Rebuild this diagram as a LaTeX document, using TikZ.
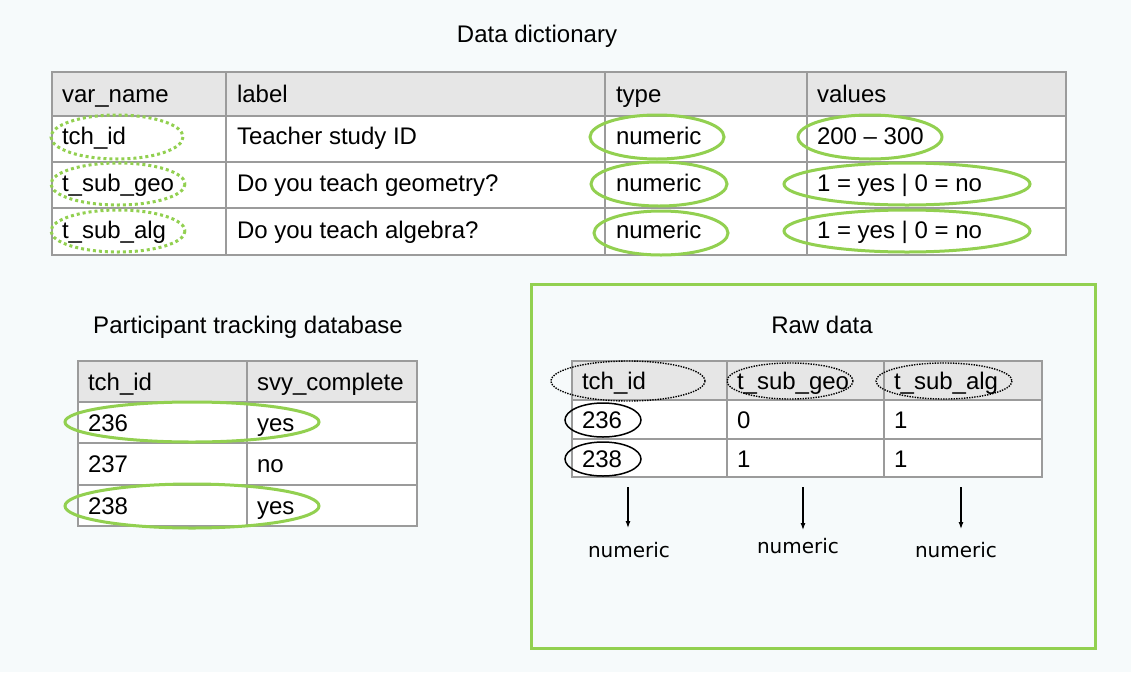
\documentclass[tikz,border=0pt]{standalone}
\usepackage{fontspec}
\usetikzlibrary{arrows.meta}
\setmainfont{Liberation Sans}
\newfontfamily\dejavu{DejaVu Sans}
\definecolor{bg}{RGB}{246,250,251}
\definecolor{hdr}{RGB}{230,230,230}
\definecolor{grid}{RGB}{155,155,155}
\definecolor{lgreen}{RGB}{146,208,80}
\begin{document}
\begin{tikzpicture}[x=1pt,y=-1pt,
  every node/.style={inner sep=0pt,outer sep=0pt,font=\fontsize{24}{28}\selectfont,text=black},
  cell/.style={anchor=base west},
  ttl/.style={anchor=base},
  gridline/.style={draw=grid,line width=1.4pt},
  gdot/.style={draw=lgreen,line width=3pt,dash pattern=on 3pt off 3pt},
  gsolid/.style={draw=lgreen,line width=3pt},
  kdot/.style={draw=black,line width=1.4pt,dash pattern=on 1.4pt off 1.2pt},
  ksolid/.style={draw=black,line width=1.5pt},
  numlab/.style={anchor=base,font=\dejavu\fontsize{20}{23}\selectfont},
  arr/.style={draw=black,line width=1.1pt,-{Latex[length=7pt,width=5pt]}}
]
\useasboundingbox (0,0) rectangle (1131,672);
\fill[bg] (0,0) rectangle (1131,672);

% ---------- Data dictionary ----------
\node[ttl] (t1) at (537,42) {Data dictionary};
\fill[white] (52,116) rectangle (1066,255);
\fill[hdr] (52,72) rectangle (1066,116);
\draw[gridline] (52,72) rectangle (1066,255);
\foreach \y in {116,162,208} \draw[gridline] (52,\y) -- (1066,\y);
\foreach \x in {226,605,807} \draw[gridline] (\x,72) -- (\x,255);

\node[cell] (h1) at (62,102) {var\_name};
\node[cell] (h2) at (237,102) {label};
\node[cell] (h3) at (616,102) {type};
\node[cell] (h4) at (817,102) {values};

\node[cell] (v1) at (62,144) {tch\_id};
\node[cell] (v2) at (62,191) {t\_sub\_geo};
\node[cell] (v3) at (62,238) {t\_sub\_alg};
\node[cell] (l1) at (237,144) {Teacher study ID};
\node[cell] (l2) at (237,191) {Do you teach geometry?};
\node[cell] (l3) at (237,238) {Do you teach algebra?};
\node[cell] (ty1) at (616,144) {numeric};
\node[cell] (ty2) at (616,191) {numeric};
\node[cell] (ty3) at (616,238) {numeric};
\node[cell] (va1) at (817,144) {200 \textendash\ 300};
\node[cell] (va2) at (817,191) {1 = yes | 0 = no};
\node[cell] (va3) at (817,238) {1 = yes | 0 = no};

\draw[gdot] (117,137) ellipse [x radius=66, y radius=22];
\draw[gdot] (118,184) ellipse [x radius=67, y radius=21];
\draw[gdot] (118,231) ellipse [x radius=67, y radius=21];
\draw[gsolid] (657,137) ellipse [x radius=67, y radius=22];
\draw[gsolid] (659,184) ellipse [x radius=68, y radius=22];
\draw[gsolid] (661,233) ellipse [x radius=67, y radius=22];
\draw[gsolid] (870,137) ellipse [x radius=72, y radius=22];
\draw[gsolid] (907,184) ellipse [x radius=123, y radius=21];
\draw[gsolid] (907,231) ellipse [x radius=123, y radius=21];

% ---------- Participant tracking database ----------
\node[ttl] (t2) at (248,333) {Participant tracking database};
\fill[white] (78,402) rectangle (417,526);
\fill[hdr] (78,361) rectangle (417,402);
\draw[gridline] (78,361) rectangle (417,526);
\foreach \y in {402,443,485} \draw[gridline] (78,\y) -- (417,\y);
\draw[gridline] (247,361) -- (247,526);

\node[cell] (p11) at (88,390) {tch\_id};
\node[cell] (p12) at (257,390) {svy\_complete};
\node[cell] (p21) at (88,431) {236};
\node[cell] (p22) at (257,431) {yes};
\node[cell] (p31) at (88,472) {237};
\node[cell] (p32) at (257,472) {no};
\node[cell] (p41) at (88,514) {238};
\node[cell] (p42) at (257,514) {yes};

\draw[gsolid] (192,422) ellipse [x radius=127, y radius=20];
\draw[gsolid] (192,506) ellipse [x radius=127, y radius=22];

% ---------- Raw data ----------
\draw[draw=lgreen,line width=3pt] (531,284) rectangle (1095,648);
\node[ttl] (t3) at (822,333) {Raw data};
\fill[white] (572,400) rectangle (1042,477);
\fill[hdr] (572,361) rectangle (1042,400);
\draw[gridline] (572,361) rectangle (1042,477);
\foreach \y in {400,439} \draw[gridline] (572,\y) -- (1042,\y);
\foreach \x in {727,884} \draw[gridline] (\x,361) -- (\x,477);

\node[cell] (r11) at (582,389) {tch\_id};
\node[cell] (r12) at (737,389) {t\_sub\_geo};
\node[cell] (r13) at (894,389) {t\_sub\_alg};
\node[cell] (r21) at (582,428) {236};
\node[cell] (r22) at (737,428) {0};
\node[cell] (r23) at (894,428) {1};
\node[cell] (r31) at (582,467) {238};
\node[cell] (r32) at (737,467) {1};
\node[cell] (r33) at (894,467) {1};

\draw[kdot] (628,381) ellipse [x radius=77, y radius=20];
\draw[kdot] (790,381) ellipse [x radius=63, y radius=18];
\draw[kdot] (944,381) ellipse [x radius=68, y radius=18];
\draw[ksolid] (603,420) ellipse [x radius=38, y radius=17];
\draw[ksolid] (603,459) ellipse [x radius=38, y radius=17];

\node[numlab] (n1) at (629,557) {numeric};
\node[numlab] (n2) at (798,553) {numeric};
\node[numlab] (n3) at (956,557) {numeric};

\coordinate (a1) at (628,487);
\coordinate (b1) at (628,528);
\coordinate (a2) at (803,487);
\coordinate (b2) at (803,530);
\coordinate (a3) at (961,487);
\coordinate (b3) at (961,529);
\draw[arr] (a1) -- (b1);
\draw[arr] (a2) -- (b2);
\draw[arr] (a3) -- (b3);
\end{tikzpicture}
\end{document}
